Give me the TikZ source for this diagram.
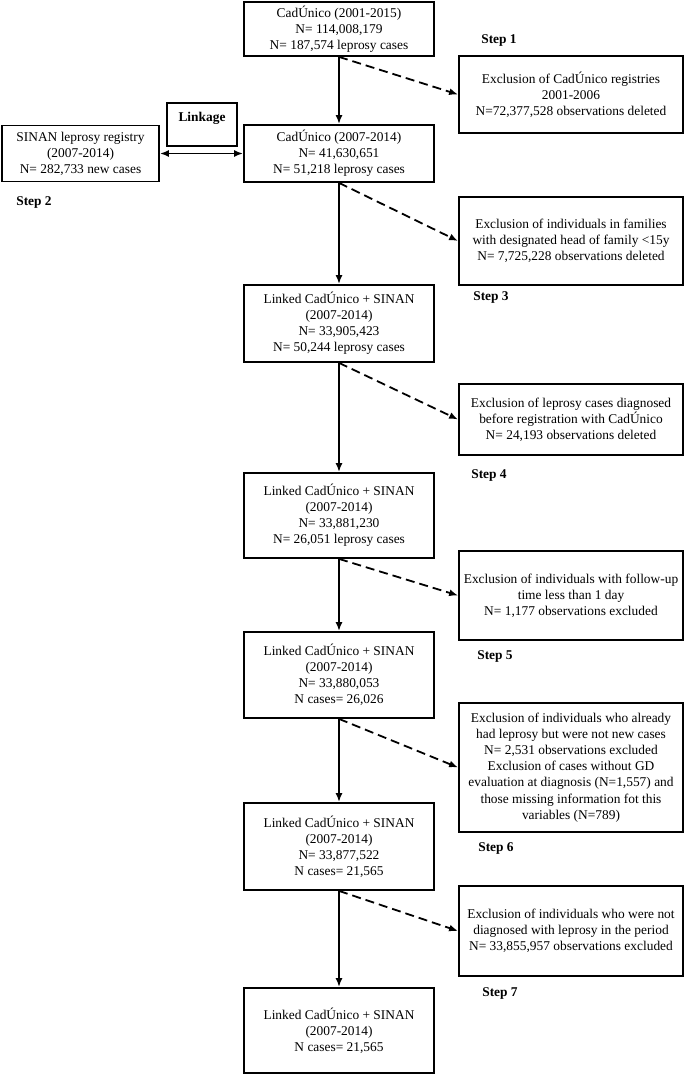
\documentclass[tikz,border=0pt]{standalone}
\usepackage{fontspec}
\setmainfont{Liberation Serif}
\usetikzlibrary{positioning, arrows.meta}

\begin{document}
\begin{tikzpicture}[
  x=1pt, y=-1pt,
  align=center,
  font=\fontsize{13.4}{16.1}\selectfont,
  mainbox/.style={
    draw=black, rectangle, line width=1.8pt,
    minimum width=190pt, inner sep=0pt
  },
  exbox/.style={mainbox, minimum width=224pt},
  stepnote/.style={font=\fontsize{13.4}{16.1}\selectfont\bfseries, inner sep=0pt},
  arr/.style ={draw, -{Latex[length=9pt, width=7pt]}, line width=1.8pt},
  darr/.style={arr, dash pattern=on 9pt off 5pt},
]

\def\xM{339}   % main column
\def\xE{571}   % exclusion column

\useasboundingbox (0,0) rectangle (685,1075);

%% ====================================================================
%%  MAIN COLUMN
%% ====================================================================
\node[mainbox, minimum height=54pt] (cad01) at (\xM, 29)
  {CadÚnico (2001-2015)\\N= 114,008,179\\N= 187,574 leprosy cases};

\node[mainbox, minimum height=57pt] (cad07) at (\xM, 153.5)
  {CadÚnico (2007-2014)\\N= 41,630,651\\N= 51,218 leprosy cases};

\node[mainbox, minimum height=77pt] (link1) at (\xM, 323.5)
  {Linked CadÚnico + SINAN\\(2007-2014)\\N= 33,905,423\\N= 50,244 leprosy cases};

\node[mainbox, minimum height=85pt] (link2) at (\xM, 515.5)
  {Linked CadÚnico + SINAN\\(2007-2014)\\N= 33,881,230\\N= 26,051 leprosy cases};

\node[mainbox, minimum height=86pt] (link3) at (\xM, 675)
  {Linked CadÚnico + SINAN\\(2007-2014)\\N= 33,880,053\\N cases= 26,026};

\node[mainbox, minimum height=87pt] (link4) at (\xM, 846.5)
  {Linked CadÚnico + SINAN\\(2007-2014)\\N= 33,877,522\\N cases= 21,565};

\node[mainbox, minimum height=85pt] (link5) at (\xM, 1030.5)
  {Linked CadÚnico + SINAN\\(2007-2014)\\N cases= 21,565};

%% ====================================================================
%%  LINKAGE WITH SINAN
%% ====================================================================
\node[mainbox, minimum width=157pt, minimum height=56pt] (sinan) at (80.5, 153.5)
  {SINAN leprosy registry\\(2007-2014)\\N= 282,733 new cases};

\node[mainbox, minimum width=70pt, text height=19pt, text depth=24pt,
      font=\fontsize{13.4}{16.1}\selectfont\bfseries, anchor=north] (linkage) at (202, 102)
  {Linkage};

%% ====================================================================
%%  EXCLUSIONS
%% ====================================================================
\node[exbox, minimum height=77pt] (ex1) at (\xE, 94.5)
  {Exclusion of CadÚnico registries\\2001-2006\\N=72,377,528 observations deleted};

\node[exbox, minimum height=88pt] (ex2) at (\xE, 241)
  {Exclusion of individuals in families\\with designated head of family <15y\\N= 7,725,228 observations deleted};

\node[exbox, minimum height=71pt] (ex3) at (\xE, 419.5)
  {Exclusion of leprosy cases diagnosed\\before registration with CadÚnico\\N= 24,193 observations deleted};

\node[exbox, minimum height=89pt] (ex4) at (\xE, 595.5)
  {Exclusion of individuals with follow-up\\time less than 1 day\\N= 1,177 observations excluded};

\node[exbox, minimum height=129pt] (ex5) at (\xE, 767.5)
  {Exclusion of individuals who already\\had leprosy but were not new cases\\N= 2,531 observations excluded\\Exclusion of cases without GD\\evaluation at diagnosis (N=1,557) and\\those missing information fot this\\variables (N=789)};

\node[exbox, minimum height=90pt] (ex6) at (\xE, 931)
  {Exclusion of individuals who were not\\diagnosed with leprosy in the period\\N= 33,855,957 observations excluded};

%% ====================================================================
%%  STEP LABELS
%% ====================================================================
\node[stepnote] (s1) at (499, 40)  {Step 1};
\node[stepnote] (s2) at (34, 202)  {Step 2};
\node[stepnote] (s3) at (491, 297) {Step 3};
\node[stepnote] (s4) at (489, 475) {Step 4};
\node[stepnote] (s5) at (495, 656) {Step 5};
\node[stepnote] (s6) at (496, 848) {Step 6};
\node[stepnote] (s7) at (500, 993) {Step 7};

%% -- Main flow --
\draw[arr] (cad01) -- (cad07);
\draw[arr] (cad07) -- (link1);
\draw[arr] (link1) -- (link2);
\draw[arr] (link2) -- (link3);
\draw[arr] (link3) -- (link4);
\draw[arr] (link4) -- (link5);

%% -- Linkage --
\draw[arr, {Latex[length=9pt, width=7pt]}-{Latex[length=9pt, width=7pt]}] (sinan) -- (cad07);

%% -- Exclusions --
\draw[darr] (cad01.south) -- (ex1.west);
\draw[darr] (cad07.south) -- (ex2.west);
\draw[darr] (link1.south) -- (ex3.west);
\draw[darr] (link2.south) -- (ex4.west);
\draw[darr] (link3.south) -- (ex5.west);
\draw[darr] (link4.south) -- (ex6.west);

\end{tikzpicture}
\end{document}
